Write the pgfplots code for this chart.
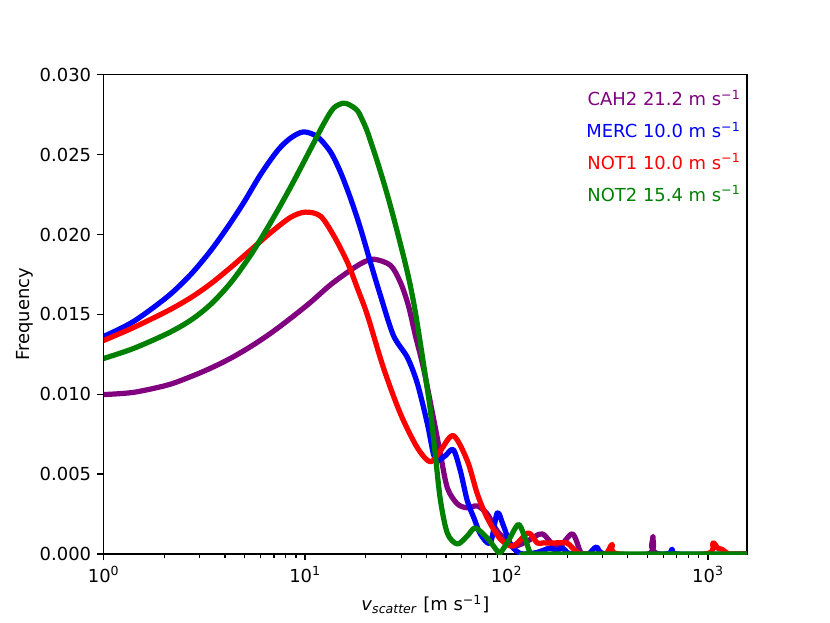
\documentclass[border=0pt]{standalone}
\usepackage{fontspec}
\setmainfont{DejaVu Sans}
\usepackage{pgfplots}
\pgfplotsset{compat=1.18}
\definecolor{mplpurple}{HTML}{800080}
\definecolor{mplblue}{HTML}{0000FF}
\definecolor{mplred}{HTML}{FF0000}
\definecolor{mplgreen}{HTML}{008000}
\begin{document}
\begin{tikzpicture}
\begin{axis}[
  at={(0,0)}, anchor=south west,
  scale only axis, width=4.96in, height=3.696in,
  xmode=log, xmin=1, xmax=1560, ymin=0, ymax=0.030,
  xtick={1,10,100,1000},
  xticklabels={10\textsuperscript{0},10\textsuperscript{1},10\textsuperscript{2},10\textsuperscript{3}},
  ytick={0,0.005,0.010,0.015,0.020,0.025,0.030},
  scaled y ticks=false,
  yticklabel style={/pgf/number format/.cd, fixed, fixed zerofill, precision=3},
  /pgf/number format/assume math mode=true,
  tick pos=left, tick align=outside,
  major tick length=3.5bp, minor tick length=2bp,
  every major tick/.append style={line width=0.8bp, black},
  every minor tick/.append style={line width=0.6bp, black},
  axis line style={line width=0.8bp},
  xlabel={\textit{v}\textsubscript{\textit{scatter}} [m s\textsuperscript{−1}]},
  ylabel={Frequency},
  ylabel shift=-3.5pt,
  every axis plot/.append style={line width=2.9bp, line join=round, line cap=round},
  clip=true,
]
% CAH2
\addplot[mplpurple, smooth, tension=0.5] coordinates {
(1,0.00998) (1.408,0.01012) (2.077,0.01058) (2.700,0.01110) (3.392,0.01163) (4.262,0.01225) (5.356,0.01298) (6.727,0.01381) (8.456,0.01475) (10.62,0.01575) (13.35,0.01685) (16.77,0.01776) (19.45,0.01826) (22.0,0.01845) (26.49,0.01807) (29.68,0.01701) (32.52,0.01556) (35.23,0.01368) (38.60,0.01167) (43.27,0.00854) (46.87,0.00628) (50.77,0.00414) (56.9,0.00314) (63.8,0.00289) (71.5,0.00301) (80.1,0.00251) (89.8,0.00144) (100.7,0.00082) (110.3,0.0005) (126.5,0.0008) (150.2,0.00126) (178.2,0.00038) (211.5,0.00126) (231.7,0.00019) (245.3,0) (503.6,0) (533,0.0011) (571,0) (1560,0)
};
% MERC
\addplot[mplblue, smooth, tension=0.5] coordinates {
(1,0.01362) (1.408,0.01456) (2.077,0.01612) (2.700,0.01749) (3.392,0.01898) (4.120,0.02046) (4.944,0.02198) (6.003,0.02375) (7.290,0.02525) (8.456,0.02603) (9.808,0.02642) (11.51,0.02611) (13.35,0.02517) (14.96,0.02391) (16.77,0.02228) (18.80,0.02040) (21.07,0.01826) (23.62,0.01619) (27.41,0.01368) (32.16,0.01230) (36.05,0.01067) (40.40,0.00816) (43.27,0.00628) (45.29,0.00584) (49.6,0.00615) (54.36,0.00653) (58.9,0.00521) (63.8,0.00333) (69.1,0.0022) (74.0,0.00126) (82.9,0.00069) (89.8,0.00257) (96.2,0.0018) (104.2,0.00063) (112.9,0.00015) (120.9,0) (141.8,0.0001) (164.6,0.00038) (176.2,0.0002) (188.7,0.00038) (202.1,0.00006) (218.8,0) (253.8,0) (279,0.00044) (311.8,0) (611,0) (662.5,0.0003) (709,0) (1560,0)
};
% NOT1
\addplot[mplred, smooth, tension=0.5] coordinates {
(1,0.01337) (1.408,0.01418) (2.077,0.01522) (2.700,0.01604) (3.392,0.01691) (4.262,0.01793) (5.356,0.01902) (6.727,0.02011) (8.456,0.02107) (10.03,0.02140) (11.9,0.02115) (13.81,0.01996) (16.20,0.01826) (18.17,0.01663) (20.37,0.01494) (24.44,0.01167) (29.68,0.00879) (36.05,0.00665) (41.81,0.00577) (46.87,0.00646) (54.36,0.00741) (63.8,0.00584) (71.5,0.00377) (80.1,0.00226) (92.9,0.00095) (107.8,0.0005) (128,0.00132) (141.8,0.00069) (152,0.0007) (164.6,0.00069) (178,0.0007) (199.7,0.00069) (211.5,0.0004) (226.5,0.00006) (240,0) (308,0) (334,0.0006) (361.6,0) (965,0) (1057,0.00069) (1120,0.00035) (1172,0.0003) (1241,0.00006) (1314,0) (1560,0)
};
% NOT2
\addplot[mplgreen, smooth, tension=0.5] coordinates {
(1,0.01224) (1.408,0.01287) (2.077,0.01381) (2.700,0.01463) (3.392,0.01562) (4.262,0.01697) (5.356,0.01870) (6.727,0.02073) (8.456,0.02296) (10.87,0.02558) (12.32,0.02690) (13.81,0.02790) (15.48,0.02822) (16.77,0.02808) (18.17,0.02775) (19.2,0.02718) (20.37,0.02642) (22.83,0.02454) (25.59,0.02247) (28.68,0.02015) (32.16,0.01764) (34.43,0.01584) (36.46,0.01398) (39.49,0.01115) (41.81,0.00900) (44.27,0.00620) (46.87,0.00340) (50.77,0.00130) (56.9,0.00063) (63.8,0.00113) (69.9,0.00163) (80.1,0.001) (89.8,0.00019) (92.9,0.00006) (101.9,0.00082) (114.2,0.00185) (122.3,0.00113) (131.1,0.00006) (140.1,0) (1560,0)
};
\node[anchor=base east, text=mplpurple, inner sep=0pt] at (rel axis cs:0.9907,0.9351) {CAH2 21.2 m s\textsuperscript{−1}};
\node[anchor=base east, text=mplblue, inner sep=0pt] at (rel axis cs:0.9907,0.8682) {MERC 10.0 m s\textsuperscript{−1}};
\node[anchor=base east, text=mplred, inner sep=0pt] at (rel axis cs:0.9907,0.8023) {NOT1 10.0 m s\textsuperscript{−1}};
\node[anchor=base east, text=mplgreen, inner sep=0pt] at (rel axis cs:0.9907,0.7364) {NOT2 15.4 m s\textsuperscript{−1}};
\end{axis}
\pgfresetboundingbox
\path[use as bounding box] (-0.8in,-0.528in) rectangle (5.6in,4.272in);
\end{tikzpicture}
\end{document}
